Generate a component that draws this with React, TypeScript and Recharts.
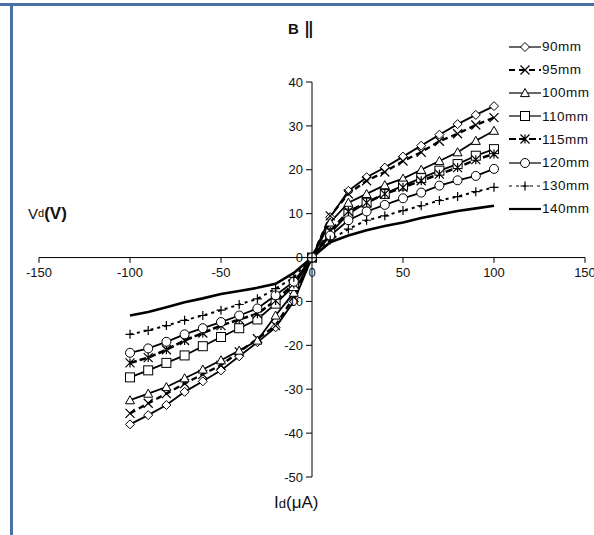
import React from 'react';
import { LineChart, Line, XAxis, YAxis, ReferenceLine, Legend } from 'recharts';

// Id (uA) sample points
const currents = [-100, -90, -80, -70, -60, -50, -40, -30, -20, -10, 0, 10, 20, 30, 40, 50, 60, 70, 80, 90, 100];

// Vd (V) for each distance
const v90 = [-38, -35.9, -33.6, -30.6, -28.2, -25.7, -22.5, -19.3, -15.9, -10, 0, 9.2, 15.2, 18.3, 20.5, 23, 25.5, 28, 30.4, 32.5, 34.5];
const v95 = [-35.5, -33.2, -31, -28.7, -26.6, -24.5, -21.5, -18.5, -15.5, -9, 0, 9.5, 14.5, 17.5, 19.5, 22, 24, 26.5, 28.2, 30.2, 31.9];
const v100 = [-32.5, -31, -29.5, -27.5, -25.5, -23.4, -21.2, -18.9, -13.2, -8, 0, 8, 12.5, 14.5, 16.5, 18, 20, 22, 24, 26.6, 28.9];
const v110 = [-27.3, -25.7, -24, -22.3, -20.2, -18.1, -16.1, -14.1, -10.5, -6.5, 0, 5.5, 10, 12.5, 14.5, 16.4, 18.1, 19.8, 21.3, 23.2, 24.7];
const v115 = [-24, -22.8, -21, -18.9, -17.2, -15.5, -14.1, -12.8, -9.8, -6, 0, 6, 10.5, 12.5, 14.5, 16, 17.5, 19, 20.5, 22.3, 23.6];
const v120 = [-21.7, -20.7, -19.2, -17.5, -16.1, -14.7, -13.2, -11.6, -8.6, -5.5, 0, 5, 8.5, 10.5, 12, 13.5, 14.8, 16.4, 17.6, 18.6, 20.2];
const v130 = [-17.5, -16.6, -15.5, -14.3, -13.2, -12, -10.7, -9.4, -7.1, -4.5, 0, 4, 6.5, 8.5, 9.5, 10.7, 11.8, 13, 13.9, 15, 16];
const v140 = [-13.2, -12.4, -11.3, -10.2, -9.3, -8.3, -7.6, -6.9, -6, -3.5, 0, 3.5, 5, 6.2, 7.2, 8, 9, 9.8, 10.6, 11.2, 11.8];

const xTicks = [-150, -100, -50, 0, 50, 100, 150];
const yTicks = [-50, -40, -30, -20, -10, 0, 10, 20, 30, 40];

const rows = currents.map((x, i) => ({
  x, v90: v90[i], v95: v95[i], v100: v100[i], v110: v110[i],
  v115: v115[i], v120: v120[i], v130: v130[i], v140: v140[i],
}));

const series = [
  { key: 'v90', name: '90mm', marker: 'diamond', dash: undefined, width: 1.8 },
  { key: 'v95', name: '95mm', marker: 'x', dash: '6 4', width: 2.4 },
  { key: 'v100', name: '100mm', marker: 'triangle', dash: undefined, width: 1.8 },
  { key: 'v110', name: '110mm', marker: 'square', dash: undefined, width: 1.8 },
  { key: 'v115', name: '115mm', marker: 'star', dash: '7 3', width: 2.6 },
  { key: 'v120', name: '120mm', marker: 'circle', dash: undefined, width: 1.8 },
  { key: 'v130', name: '130mm', marker: 'plus', dash: '3 4', width: 2 },
  { key: 'v140', name: '140mm', marker: 'none', dash: undefined, width: 2.6 },
];

const font = '"Liberation Sans", Arial, sans-serif';

function Marker({ kind, cx, cy }: { kind: string; cx: number; cy: number }) {
  const s = 4.5;
  const st = { stroke: '#000', strokeWidth: 1, fill: '#fff' };
  switch (kind) {
    case 'diamond':
      return <polygon points={`${cx},${cy - s} ${cx + s},${cy} ${cx},${cy + s} ${cx - s},${cy}`} {...st} />;
    case 'x':
      return <path d={`M${cx - s},${cy - s}L${cx + s},${cy + s}M${cx - s},${cy + s}L${cx + s},${cy - s}`} stroke="#000" strokeWidth={1.2} fill="none" />;
    case 'triangle':
      return <polygon points={`${cx},${cy - s} ${cx + s},${cy + s * 0.8} ${cx - s},${cy + s * 0.8}`} {...st} />;
    case 'square':
      return <rect x={cx - s} y={cy - s} width={s * 2} height={s * 2} {...st} />;
    case 'star':
      return <path d={`M${cx - s},${cy - s}L${cx + s},${cy + s}M${cx - s},${cy + s}L${cx + s},${cy - s}M${cx},${cy - s}L${cx},${cy + s}`} stroke="#000" strokeWidth={1.2} fill="none" />;
    case 'circle':
      return <circle cx={cx} cy={cy} r={s} {...st} />;
    case 'plus':
      return <path d={`M${cx - s},${cy}L${cx + s},${cy}M${cx},${cy - s}L${cx},${cy + s}`} stroke="#000" strokeWidth={1.2} fill="none" />;
    default:
      return null;
  }
}

function LegendBox() {
  return (
    <div style={{ fontFamily: font, fontSize: 13.5, color: '#111' }}>
      {series.map(s => (
        <div key={s.key} style={{ display: 'flex', alignItems: 'center', height: 23.2 }}>
          <svg width={32} height={14}>
            <line x1={0} y1={7} x2={32} y2={7} stroke="#000" strokeWidth={s.width > 2 ? 2.2 : 1.2} strokeDasharray={s.dash} />
            <Marker kind={s.marker} cx={16} cy={7} />
          </svg>
          <span style={{ marginLeft: 1, letterSpacing: 0.5 }}>{s.name}</span>
        </div>
      ))}
    </div>
  );
}

export default function App() {
  return (
    <div style={{ position: 'absolute', left: 0, top: 0, width: 594, height: 535, background: '#fff', fontFamily: font }}>
      <div style={{ position: 'absolute', left: 0, top: 3, width: 594, height: 3, background: '#4a70a8' }} />
      <div style={{ position: 'absolute', left: 10, top: 3, width: 3, height: 532, background: '#4a70a8' }} />
      <LineChart width={594} height={535} data={rows} margin={{ top: 82, right: 9, bottom: 58, left: 39 }}>
        <XAxis type="number" dataKey="x" domain={[-150, 150]} hide />
        <YAxis type="number" domain={[-50, 40]} hide />
        <ReferenceLine y={0} stroke="#000" strokeWidth={1} />
        <ReferenceLine segment={[{ x: 0, y: -50 }, { x: 0, y: 40 }]} stroke="#000" strokeWidth={1} />
        {xTicks.map(t => (
          <ReferenceLine key={'xt' + t} segment={[{ x: t, y: 0 }, { x: t, y: -1.2 }]} stroke="#000"
            label={{ value: String(t), position: 'bottom', offset: 5, fill: '#111', fontSize: 13, fontFamily: font }} />
        ))}
        {yTicks.map(t => (
          <ReferenceLine key={'yt' + t} segment={[{ x: -3.3, y: t }, { x: 0, y: t }]} stroke="#000"
            label={{ value: String(t), position: 'left', offset: 3, fill: '#111', fontSize: 13, fontFamily: font }} />
        ))}
        {series.map(s => (
          <Line key={s.key} dataKey={s.key} name={s.name} type="linear" stroke="#000" strokeWidth={s.width}
            strokeDasharray={s.dash} isAnimationActive={false} activeDot={false}
            dot={s.marker === 'none' ? false : (p: any) => (
              <g key={s.key + '-' + p.index}><Marker kind={s.marker} cx={p.cx} cy={p.cy} /></g>
            )} />
        ))}
        <Legend layout="vertical" align="center" verticalAlign="middle" content={() => <LegendBox />}
          wrapperStyle={{ top: 35, left: 509, width: 85, height: 190 }} />
      </LineChart>
      <div style={{ position: 'absolute', left: 288, top: 20, fontSize: 15, fontWeight: 'bold', color: '#111' }}>B</div>
      <div style={{ position: 'absolute', left: 304, top: 16, fontSize: 24, color: '#111' }}>‖</div>
      <div style={{ position: 'absolute', left: 28, top: 204, color: '#111', whiteSpace: 'nowrap' }}>
        <span style={{ fontSize: 15 }}>V</span>
        <span style={{ fontSize: 11, position: 'relative', top: -2 }}>d</span>
        <span style={{ fontSize: 17, fontWeight: 600 }}>(V)</span>
      </div>
      <div style={{ position: 'absolute', left: 274, top: 493, color: '#111', whiteSpace: 'nowrap' }}>
        <span style={{ fontSize: 17 }}>I</span>
        <span style={{ fontSize: 13 }}>d</span>
        <span style={{ fontSize: 17 }}>(μA)</span>
      </div>
    </div>
  );
}
